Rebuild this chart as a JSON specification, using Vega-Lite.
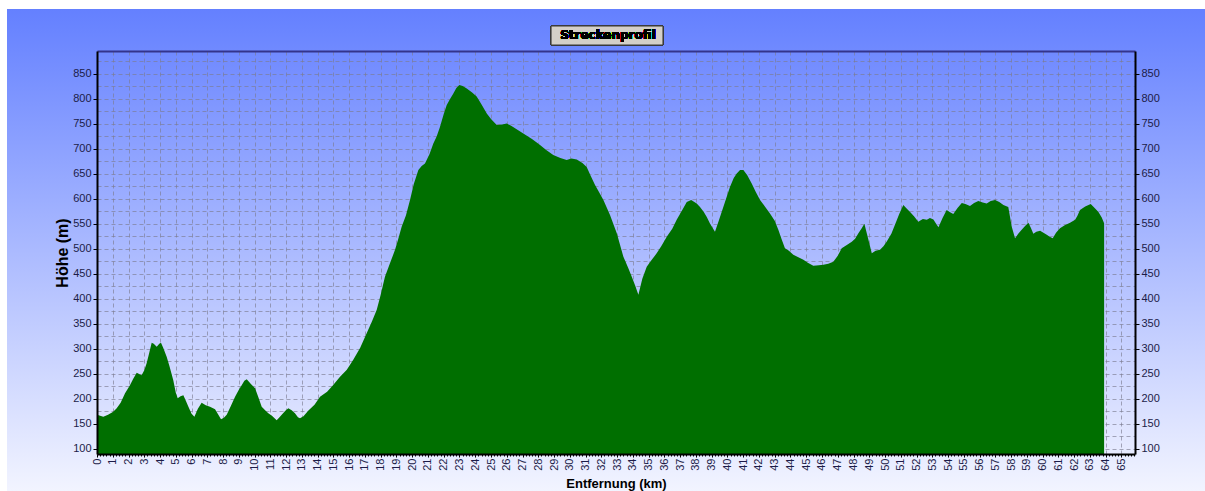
{
  "$schema": "https://vega.github.io/schema/vega-lite/v6.json",
  "width": 1038,
  "height": 403,
  "autosize": {"type": "none"},
  "padding": {"left": 97, "top": 51, "right": 70, "bottom": 37},
  "background": "white",
  "view": {
    "stroke": null,
    "fill": {"gradient": "linear", "x1": 0, "y1": 0, "x2": 0, "y2": 1,
      "stops": [{"offset": 0, "color": "#708aff"}, {"offset": 1, "color": "#e7ebff"}]}
  },
  "config": {"font": "Liberation Sans"},
  "data": {"values": [
    {"km": 0.0, "h": 168}, {"km": 0.1, "h": 167}, {"km": 0.4, "h": 164}, {"km": 0.7, "h": 168},
    {"km": 1.03, "h": 174}, {"km": 1.25, "h": 181}, {"km": 1.5, "h": 192}, {"km": 1.78, "h": 211},
    {"km": 2.09, "h": 227}, {"km": 2.3, "h": 240}, {"km": 2.52, "h": 252}, {"km": 2.83, "h": 247},
    {"km": 3.0, "h": 257}, {"km": 3.15, "h": 271}, {"km": 3.3, "h": 290}, {"km": 3.47, "h": 312},
    {"km": 3.6, "h": 310}, {"km": 3.79, "h": 304}, {"km": 3.95, "h": 310}, {"km": 4.06, "h": 312},
    {"km": 4.2, "h": 302}, {"km": 4.42, "h": 284}, {"km": 4.6, "h": 265}, {"km": 4.84, "h": 237},
    {"km": 5.0, "h": 212}, {"km": 5.12, "h": 201}, {"km": 5.3, "h": 205}, {"km": 5.48, "h": 207},
    {"km": 5.65, "h": 195}, {"km": 5.8, "h": 184}, {"km": 6.0, "h": 170}, {"km": 6.18, "h": 164},
    {"km": 6.4, "h": 180}, {"km": 6.64, "h": 192}, {"km": 6.9, "h": 187}, {"km": 7.17, "h": 184},
    {"km": 7.49, "h": 179}, {"km": 7.7, "h": 168}, {"km": 7.87, "h": 159}, {"km": 8.05, "h": 162},
    {"km": 8.23, "h": 168}, {"km": 8.5, "h": 186}, {"km": 8.76, "h": 204}, {"km": 9.0, "h": 218},
    {"km": 9.18, "h": 227}, {"km": 9.35, "h": 236}, {"km": 9.5, "h": 239}, {"km": 9.75, "h": 230},
    {"km": 10.03, "h": 221}, {"km": 10.25, "h": 202}, {"km": 10.45, "h": 184}, {"km": 10.7, "h": 176},
    {"km": 10.87, "h": 171}, {"km": 11.1, "h": 166}, {"km": 11.4, "h": 157}, {"km": 11.55, "h": 162},
    {"km": 11.72, "h": 168}, {"km": 11.95, "h": 176}, {"km": 12.14, "h": 181}, {"km": 12.35, "h": 177},
    {"km": 12.56, "h": 171}, {"km": 12.75, "h": 163}, {"km": 12.88, "h": 161}, {"km": 13.1, "h": 165},
    {"km": 13.4, "h": 176}, {"km": 13.8, "h": 188}, {"km": 14.15, "h": 204}, {"km": 14.6, "h": 214},
    {"km": 15.0, "h": 228}, {"km": 15.42, "h": 244}, {"km": 15.85, "h": 258}, {"km": 16.26, "h": 278},
    {"km": 16.7, "h": 302}, {"km": 17.11, "h": 331}, {"km": 17.45, "h": 355}, {"km": 17.75, "h": 378},
    {"km": 18.0, "h": 408}, {"km": 18.27, "h": 444}, {"km": 18.6, "h": 472}, {"km": 18.91, "h": 498},
    {"km": 19.1, "h": 518}, {"km": 19.33, "h": 544}, {"km": 19.6, "h": 567}, {"km": 19.86, "h": 598},
    {"km": 20.1, "h": 630}, {"km": 20.39, "h": 658}, {"km": 20.6, "h": 666}, {"km": 20.81, "h": 671},
    {"km": 21.1, "h": 690}, {"km": 21.34, "h": 711}, {"km": 21.55, "h": 725}, {"km": 21.76, "h": 744},
    {"km": 22.0, "h": 770}, {"km": 22.19, "h": 788}, {"km": 22.4, "h": 800}, {"km": 22.61, "h": 811},
    {"km": 22.8, "h": 822}, {"km": 22.99, "h": 828}, {"km": 23.2, "h": 826}, {"km": 23.46, "h": 821},
    {"km": 23.8, "h": 813}, {"km": 24.09, "h": 805}, {"km": 24.4, "h": 789}, {"km": 24.73, "h": 771},
    {"km": 25.0, "h": 760}, {"km": 25.36, "h": 748}, {"km": 25.7, "h": 749}, {"km": 26.0, "h": 751},
    {"km": 26.3, "h": 746}, {"km": 26.6, "h": 740}, {"km": 27.05, "h": 731}, {"km": 27.6, "h": 720},
    {"km": 28.11, "h": 708}, {"km": 28.5, "h": 698}, {"km": 28.95, "h": 688}, {"km": 29.4, "h": 682},
    {"km": 29.8, "h": 678}, {"km": 30.1, "h": 681}, {"km": 30.44, "h": 679}, {"km": 30.8, "h": 672},
    {"km": 31.07, "h": 664}, {"km": 31.3, "h": 648}, {"km": 31.6, "h": 628}, {"km": 31.85, "h": 614},
    {"km": 32.13, "h": 598}, {"km": 32.55, "h": 568}, {"km": 32.98, "h": 531}, {"km": 33.4, "h": 484},
    {"km": 33.7, "h": 462}, {"km": 33.93, "h": 444}, {"km": 34.15, "h": 426}, {"km": 34.35, "h": 408},
    {"km": 34.6, "h": 440}, {"km": 34.88, "h": 464}, {"km": 35.2, "h": 478}, {"km": 35.51, "h": 491},
    {"km": 35.8, "h": 505}, {"km": 36.15, "h": 524}, {"km": 36.5, "h": 540}, {"km": 36.78, "h": 558},
    {"km": 37.1, "h": 576}, {"km": 37.42, "h": 594}, {"km": 37.7, "h": 598}, {"km": 38.05, "h": 591},
    {"km": 38.26, "h": 584}, {"km": 38.5, "h": 574}, {"km": 38.69, "h": 564}, {"km": 38.9, "h": 550},
    {"km": 39.21, "h": 534}, {"km": 39.45, "h": 556}, {"km": 39.74, "h": 584}, {"km": 39.95, "h": 604},
    {"km": 40.16, "h": 624}, {"km": 40.4, "h": 642}, {"km": 40.59, "h": 651}, {"km": 40.8, "h": 658},
    {"km": 41.01, "h": 658}, {"km": 41.25, "h": 648}, {"km": 41.54, "h": 631}, {"km": 41.8, "h": 614},
    {"km": 42.07, "h": 598}, {"km": 42.4, "h": 584}, {"km": 42.7, "h": 571}, {"km": 43.0, "h": 556},
    {"km": 43.23, "h": 538}, {"km": 43.45, "h": 518}, {"km": 43.65, "h": 501}, {"km": 43.9, "h": 496},
    {"km": 44.18, "h": 488}, {"km": 44.5, "h": 483}, {"km": 44.82, "h": 478}, {"km": 45.1, "h": 472},
    {"km": 45.45, "h": 466}, {"km": 45.8, "h": 467}, {"km": 46.09, "h": 468}, {"km": 46.4, "h": 470},
    {"km": 46.72, "h": 474}, {"km": 47.0, "h": 486}, {"km": 47.25, "h": 501}, {"km": 47.6, "h": 508},
    {"km": 47.89, "h": 514}, {"km": 48.1, "h": 520}, {"km": 48.31, "h": 531}, {"km": 48.5, "h": 540},
    {"km": 48.69, "h": 550}, {"km": 48.85, "h": 530}, {"km": 49.16, "h": 491}, {"km": 49.4, "h": 496},
    {"km": 49.68, "h": 498}, {"km": 49.9, "h": 505}, {"km": 50.1, "h": 514}, {"km": 50.4, "h": 530},
    {"km": 50.63, "h": 548}, {"km": 50.9, "h": 570}, {"km": 51.16, "h": 588}, {"km": 51.4, "h": 580},
    {"km": 51.59, "h": 574}, {"km": 51.85, "h": 565}, {"km": 52.11, "h": 554}, {"km": 52.4, "h": 560},
    {"km": 52.65, "h": 558}, {"km": 52.85, "h": 562}, {"km": 53.07, "h": 559}, {"km": 53.2, "h": 552},
    {"km": 53.39, "h": 543}, {"km": 53.65, "h": 562}, {"km": 53.91, "h": 578}, {"km": 54.1, "h": 574},
    {"km": 54.33, "h": 570}, {"km": 54.6, "h": 582}, {"km": 54.87, "h": 592}, {"km": 55.1, "h": 590},
    {"km": 55.39, "h": 586}, {"km": 55.65, "h": 592}, {"km": 55.92, "h": 596}, {"km": 56.2, "h": 593},
    {"km": 56.45, "h": 591}, {"km": 56.7, "h": 596}, {"km": 56.98, "h": 598}, {"km": 57.25, "h": 594},
    {"km": 57.51, "h": 588}, {"km": 57.82, "h": 584}, {"km": 58.04, "h": 544}, {"km": 58.25, "h": 521},
    {"km": 58.45, "h": 530}, {"km": 58.67, "h": 538}, {"km": 58.9, "h": 546}, {"km": 59.1, "h": 552},
    {"km": 59.25, "h": 542}, {"km": 59.41, "h": 530}, {"km": 59.6, "h": 534}, {"km": 59.84, "h": 536},
    {"km": 60.05, "h": 532}, {"km": 60.26, "h": 528}, {"km": 60.45, "h": 524}, {"km": 60.64, "h": 521},
    {"km": 60.85, "h": 532}, {"km": 61.1, "h": 541}, {"km": 61.4, "h": 547}, {"km": 61.74, "h": 552},
    {"km": 62.06, "h": 558}, {"km": 62.2, "h": 566}, {"km": 62.37, "h": 578}, {"km": 62.7, "h": 585},
    {"km": 63.05, "h": 590}, {"km": 63.3, "h": 582}, {"km": 63.54, "h": 574}, {"km": 63.75, "h": 563},
    {"km": 63.9, "h": 551}
  ]},
  "resolve": {"axis": {"x": "independent", "y": "independent"}},
  "layer": [
    {
      "mark": {"type": "rect", "clip": false,
        "fill": {"gradient": "linear", "x1": 0, "y1": 0, "x2": 0, "y2": 1,
          "stops": [{"offset": 0, "color": "#6480ff"}, {"offset": 1, "color": "#708aff"}]}},
      "encoding": {
        "x": {"datum": -5.71, "type": "quantitative",
          "scale": {"domain": [0, 65.86], "nice": false, "zero": false},
          "axis": {"orient": "bottom", "values": [0,1,2,3,4,5,6,7,8,9,10,11,12,13,14,15,16,17,18,19,20,21,22,23,24,25,26,27,28,29,30,31,32,33,34,35,36,37,38,39,40,41,42,43,44,45,46,47,48,49,50,51,52,53,54,55,56,57,58,59,60,61,62,63,64,65],
            "grid": true, "gridColor": "#7c7c90", "gridOpacity": 0.65, "gridDash": [4, 3], "gridWidth": 1,
            "labels": false, "ticks": false, "domain": false, "title": null, "zindex": 0}},
        "x2": {"datum": 70.6},
        "y": {"datum": 980.1, "type": "quantitative",
          "scale": {"domain": [89.4, 896], "nice": false, "zero": false},
          "axis": {"orient": "left", "values": [100,125,150,175,200,225,250,275,300,325,350,375,400,425,450,475,500,525,550,575,600,625,650,675,700,725,750,775,800,825,850,875],
            "grid": true, "gridColor": "#7c7c90", "gridOpacity": 0.65, "gridDash": [4, 3], "gridWidth": 1,
            "labels": false, "ticks": false, "domain": false, "title": null, "zindex": 0}},
        "y2": {"datum": 896}
      }
    },
    {
      "mark": {"type": "rect", "clip": false,
        "fill": {"gradient": "linear", "x1": 0, "y1": 0, "x2": 0, "y2": 1,
          "stops": [{"offset": 0, "color": "#708aff"}, {"offset": 1, "color": "#e7ebff"}]}},
      "encoding": {
        "x": {"datum": -5.71, "type": "quantitative",
          "scale": {"domain": [0, 65.86], "nice": false, "zero": false},
          "axis": {"orient": "bottom", "values": [0,1,2,3,4,5,6,7,8,9,10,11,12,13,14,15,16,17,18,19,20,21,22,23,24,25,26,27,28,29,30,31,32,33,34,35,36,37,38,39,40,41,42,43,44,45,46,47,48,49,50,51,52,53,54,55,56,57,58,59,60,61,62,63,64,65],
            "grid": false, "labelAngle": 270, "labelFontSize": 11, "labelColor": "#1c1c48",
            "labelOverlap": false, "labelFlush": false, "labelBound": false, "labelPadding": 1,
            "tickSize": 3, "tickColor": "#000000", "domain": true, "domainColor": "#000000", "domainWidth": 2,
            "title": "Entfernung (km)", "titleFontSize": 13, "titleFontWeight": "bold", "titleColor": "#000000",
            "titleBaseline": "alphabetic", "titleY": 33, "zindex": 1}},
        "x2": {"datum": 0},
        "y": {"datum": 896, "type": "quantitative",
          "scale": {"domain": [89.4, 896], "nice": false, "zero": false},
          "axis": {"orient": "left", "values": [100,150,200,250,300,350,400,450,500,550,600,650,700,750,800,850],
            "grid": false, "labelFontSize": 11, "labelColor": "#1c1c48", "labelPadding": 2,
            "tickSize": 4, "tickColor": "#000000", "domain": true, "domainColor": "#000000", "domainWidth": 2,
            "title": "Höhe (m)", "titleFontSize": 16, "titleFontWeight": "bold", "titleColor": "#000000",
            "titleX": -35, "titleY": 201.5, "titleBaseline": "middle", "titleAlign": "center", "titleAngle": 270, "zindex": 1}},
        "y2": {"datum": 89.4}
      }
    },
    {
      "mark": {"type": "rect", "clip": false,
        "fill": {"gradient": "linear", "x1": 0, "y1": 0, "x2": 0, "y2": 1,
          "stops": [{"offset": 0, "color": "#708aff"}, {"offset": 1, "color": "#e7ebff"}]}},
      "encoding": {
        "x": {"datum": 65.86, "type": "quantitative",
          "scale": {"domain": [0, 65.86], "nice": false, "zero": false},
          "axis": {"orient": "bottom", "tickCount": 330, "grid": false, "labels": false, "domain": false,
            "tickSize": 2, "tickColor": "#000000", "title": null, "zindex": 1}},
        "x2": {"datum": 70.6},
        "y": {"datum": 896, "type": "quantitative",
          "scale": {"domain": [89.4, 896], "nice": false, "zero": false},
          "axis": {"orient": "right", "values": [100,150,200,250,300,350,400,450,500,550,600,650,700,750,800,850],
            "grid": false, "labelFontSize": 11, "labelColor": "#1c1c48", "labelPadding": 2,
            "tickSize": 4, "tickColor": "#000000", "domain": true, "domainColor": "#000000", "domainWidth": 2,
            "title": null, "zindex": 1}},
        "y2": {"datum": 89.4}
      }
    },
    {
      "mark": {"type": "rect", "clip": false,
        "fill": {"gradient": "linear", "x1": 0, "y1": 0, "x2": 0, "y2": 1,
          "stops": [{"offset": 0, "color": "#e7ebff"}, {"offset": 1, "color": "#f2f4ff"}]}},
      "encoding": {
        "x": {"datum": -5.71, "type": "quantitative",
          "scale": {"domain": [0, 65.86], "nice": false, "zero": false},
          "axis": {"orient": "top", "grid": false, "labels": false, "ticks": false, "domain": true,
            "domainColor": "#34348c", "domainWidth": 2, "title": null, "zindex": 1}},
        "x2": {"datum": 70.6},
        "y": {"datum": 89.4, "type": "quantitative",
          "scale": {"domain": [89.4, 896], "nice": false, "zero": false}, "axis": null},
        "y2": {"datum": 15.3}
      }
    },
    {
      "mark": {"type": "area", "color": "#006f00", "interpolate": "linear", "clip": true},
      "encoding": {
        "x": {"field": "km", "type": "quantitative",
          "scale": {"domain": [0, 65.86], "nice": false, "zero": false}, "axis": null},
        "y": {"field": "h", "type": "quantitative",
          "scale": {"domain": [89.4, 896], "nice": false, "zero": false}, "axis": null}
      }
    },
    {
      "mark": {"type": "rect", "clip": false, "fill": "#d4d0c8", "stroke": "#3a3a3a", "strokeWidth": 1},
      "encoding": {
        "x": {"datum": 28.81, "type": "quantitative",
          "scale": {"domain": [0, 65.86], "nice": false, "zero": false}, "axis": null},
        "x2": {"datum": 35.91},
        "y": {"datum": 946, "type": "quantitative",
          "scale": {"domain": [89.4, 896], "nice": false, "zero": false}, "axis": null},
        "y2": {"datum": 908}
      }
    },
    {
      "mark": {"type": "text", "clip": false, "font": "DejaVu Sans", "fontSize": 12, "fontWeight": "bold",
        "color": "#000000", "align": "center", "baseline": "middle"},
      "encoding": {
        "x": {"datum": 32.42, "type": "quantitative",
          "scale": {"domain": [0, 65.86], "nice": false, "zero": false}, "axis": null},
        "y": {"datum": 928, "type": "quantitative",
          "scale": {"domain": [89.4, 896], "nice": false, "zero": false}, "axis": null},
        "text": {"value": "Streckenprofil"}
      }
    }
  ]
}
